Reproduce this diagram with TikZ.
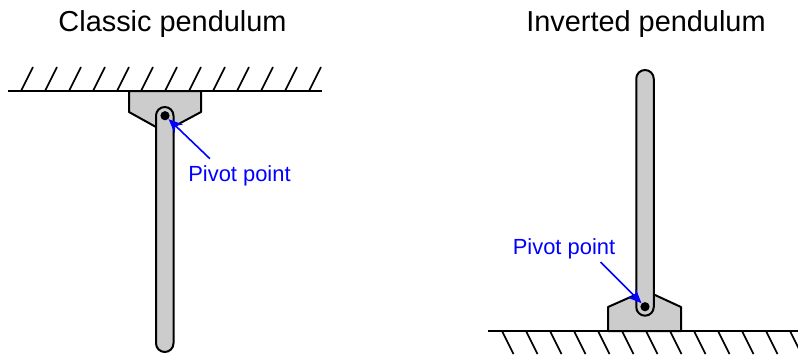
\documentclass[tikz,border=0pt]{standalone}
\usepackage{fontspec}
\setmainfont{Liberation Sans}
\usetikzlibrary{arrows.meta,calc}
\definecolor{pdgray}{HTML}{CCCCCC}
\definecolor{pdblue}{HTML}{0000FF}
\tikzset{
  ground/.style={draw=black, line width=1bp},
  hatch/.style={draw=black, line width=0.8bp},
  mount/.style={draw=black, fill=pdgray, line width=1bp, line join=round},
  rod/.style={draw=black, fill=pdgray, line width=1bp, rounded corners=4.37bp},
  pivot/.style={circle, fill=black, inner sep=0pt, minimum size=4.6bp},
  title/.style={font=\fontsize{14.5}{17}\selectfont, anchor=base, inner sep=0pt},
  callout/.style={font=\fontsize{11}{13}\selectfont, text=pdblue, anchor=base, inner sep=0pt},
  pointer/.style={-{Stealth[length=7bp,width=6bp]}, draw=pdblue, line width=0.8bp},
}
\begin{document}
\begin{tikzpicture}[x=0.5bp,y=-0.5bp]
\useasboundingbox (0,0) rectangle (798,354);

% ---------- classic pendulum ----------
\node[title] (tclassic) at (172.5,31) {Classic pendulum};
\draw[ground] (8,91) -- (322,91);
\foreach \x in {21,45,...,309}
  \draw[hatch] (\x,91) -- ++(12,-24);
\draw[mount] (129,91) -- (129,112) -- (156,127) -- (173,127) -- (201,112) -- (201,91) -- cycle;
\draw[rod] (156,107) rectangle (173.5,352);
\node[pivot] (pivL) at (165,115.7) {};
\node[callout] (labL) at (239.5,181) {Pivot point};
\draw[pointer] ($(labL.north west)+(22,-6)$) -- (pivL);

% ---------- inverted pendulum ----------
\node[title] (tinverted) at (646,31) {Inverted pendulum};
\draw[ground] (488,331) -- (798,331);
\foreach \x in {502,526,...,790}
  \draw[hatch] (\x,331) -- ++(11.5,23);
\draw[mount] (608,331) -- (608,307) -- (635,295) -- (655,295) -- (681,307) -- (681,331) -- cycle;
\draw[rod] (636.25,70) rectangle (653.75,315.7);
\node[pivot] (pivR) at (645,306.7) {};
\node[callout] (labR) at (564,254) {Pivot point};
\draw[pointer] ($(labR.south east)+(-15,3)$) -- (pivR);
\end{tikzpicture}
\end{document}
